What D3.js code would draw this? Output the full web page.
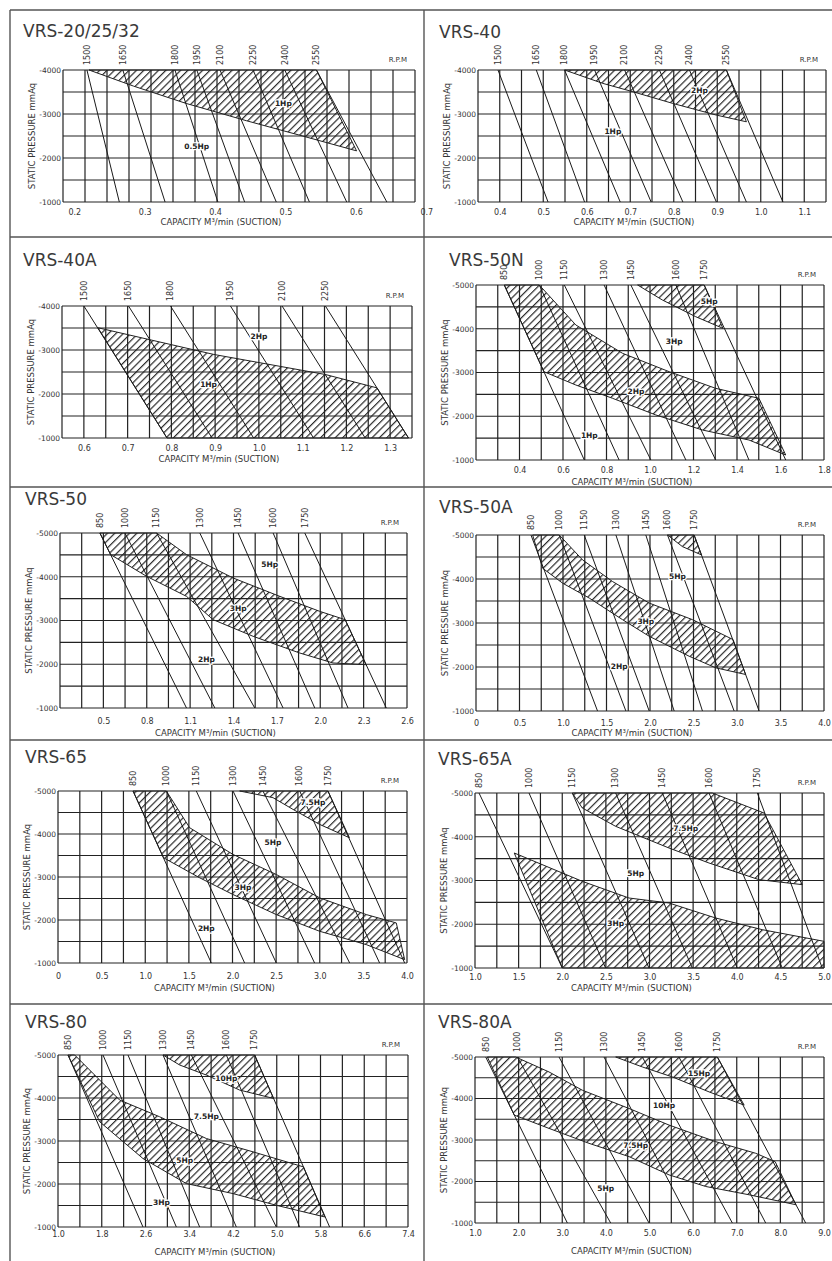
<!DOCTYPE html>
<html><head><meta charset="utf-8">
<script src="https://cdn.jsdelivr.net/npm/d3@7/dist/d3.min.js"></script>
<style>body{margin:0;background:#fff}svg{display:block}</style>
</head><body>
<script>
// ---------------- DATA (capacity m3/min, static pressure mmAq) ----------------
// VRS-20/25/32
const v20Titles = "VRS-20/25/32";
const v20XDom = [0.184, 0.684];
const v20XTicks = [0.2, 0.3, 0.4, 0.5, 0.6, 0.7];
const v20Rpm = [1500, 1650, 1800, 1950, 2100, 2250, 2400, 2550];
const v20Top = [0.218, 0.269, 0.343, 0.374, 0.407, 0.454, 0.499, 0.544];
const v20Bot = [0.264, 0.329, 0.404, 0.442, 0.487, 0.534, 0.587, 0.644];
const v20Hatch = [[[0.221,-4000],[0.544,-4000],[0.601,-2162],[0.520,-2519],[0.445,-2845],[0.359,-3240],[0.284,-3635]]];
const v20Hp = [["1Hp",0.497,-3240],["0.5Hp",0.374,-2268]];

// VRS-40
const v40XDom = [0.35, 1.15];
const v40XTicks = [0.4, 0.5, 0.6, 0.7, 0.8, 0.9, 1.0, 1.1];
const v40Rpm = [1500, 1650, 1800, 1950, 2100, 2250, 2400, 2550];
const v40Top = [0.396, 0.484, 0.549, 0.618, 0.687, 0.767, 0.836, 0.921];
const v40Bot = [0.511, 0.595, 0.677, 0.748, 0.821, 0.898, 0.967, 1.051];
const v40Hatch = [[[0.549,-4000],[0.921,-4000],[0.967,-2823],[0.898,-2975],[0.798,-3240],[0.706,-3506],[0.637,-3696]]];
const v40Hp = [["2Hp",0.859,-3544],["1Hp",0.660,-2595]];

// VRS-40A
const v40aXDom = [0.55, 1.35];
const v40aXTicks = [0.6, 0.7, 0.8, 0.9, 1.0, 1.1, 1.2, 1.3];
const v40aRpm = [1500, 1650, 1800, 1950, 2100, 2250];
const v40aTop = [0.600, 0.702, 0.798, 0.935, 1.053, 1.152];
const v40aBot = [0.790, 0.893, 0.988, 1.125, 1.243, 1.342];
const v40aHatch = [[[0.632,-3506],[0.897,-2899],[1.152,-2443],[1.270,-2139],[1.342,-1000],[0.790,-1000]]];
const v40aHp = [["2Hp",1.0,-3316],["1Hp",0.885,-2215]];

// VRS-50N
const v50nXDom = [0.2, 1.8];
const v50nXTicks = [0.4, 0.6, 0.8, 1.0, 1.2, 1.4, 1.6, 1.8];
const v50nRpm = [850, 1000, 1150, 1300, 1450, 1600, 1750];
const v50nTop = [0.330, 0.491, 0.606, 0.789, 0.912, 1.119, 1.249];
const v50nBot = [0.698, 0.858, 1.004, 1.165, 1.302, 1.455, 1.624];
const v50nHatch = [
  [[0.330,-5000],[0.491,-5000],[0.659,-4086],[0.874,-3438],[1.088,-3019],[1.302,-2638],[1.501,-2410],[1.624,-1114],[1.455,-1457],[1.241,-1686],[1.027,-2029],[0.828,-2410],[0.659,-2714],[0.512,-3019]],
  [[0.943,-5000],[1.249,-5000],[1.335,-4010],[1.210,-4276],[1.057,-4657]]
];
const v50nHp = [["5Hp",1.272,-4619],["3Hp",1.111,-3705],["2Hp",0.935,-2562],["1Hp",0.721,-1571]];

// VRS-50
const v50XDom = [0.2, 2.6];
const v50XTicks = [0.5, 0.8, 1.1, 1.4, 1.7, 2.0, 2.3, 2.6];
const v50Rpm = [850, 1000, 1150, 1300, 1450, 1600, 1750];
const v50Top = [0.476, 0.649, 0.868, 1.167, 1.432, 1.674, 1.893];
const v50Bot = [1.075, 1.271, 1.547, 1.743, 1.962, 2.192, 2.457];
const v50Hatch = [[[0.476,-5000],[0.868,-5000],[1.075,-4505],[1.398,-3971],[1.720,-3552],[1.996,-3210],[2.172,-3019],[2.317,-1990],[2.088,-2029],[1.858,-2257],[1.536,-2638],[1.259,-3019],[1.075,-3552],[0.799,-4010],[0.550,-4505]]];
const v50Hp = [["5Hp",1.651,-4276],["3Hp",1.432,-3286],["2Hp",1.213,-2105]];

// VRS-50A
const v50aXDom = [0, 4];
const v50aXTicks = [0, 0.5, 1.0, 1.5, 2.0, 2.5, 3.0, 3.5, 4.0];
const v50aRpm = [850, 1000, 1150, 1300, 1450, 1600, 1750];
const v50aTop = [0.632, 0.957, 1.244, 1.608, 1.952, 2.201, 2.507];
const v50aBot = [1.397, 1.723, 1.991, 2.278, 2.603, 2.967, 3.254];
const v50aHatch = [
  [[0.651,-5000],[0.957,-5000],[1.225,-4434],[1.569,-3943],[1.991,-3453],[2.488,-3076],[2.955,-2623],[3.099,-1830],[2.756,-1981],[2.450,-2245],[1.991,-2698],[1.684,-3076],[1.302,-3566],[0.995,-3906],[0.766,-4245]],
  [[2.201,-5000],[2.507,-5000],[2.592,-4547],[2.373,-4736]]
];
const v50aHp = [["5Hp",2.316,-4057],["3Hp",1.952,-3038],["2Hp",1.646,-2019]];

// VRS-65
const v65XDom = [0, 4];
const v65XTicks = [0, 0.5, 1.0, 1.5, 2.0, 2.5, 3.0, 3.5, 4.0];
const v65Rpm = [850, 1000, 1150, 1300, 1450, 1600, 1750];
const v65Top = [0.860, 1.242, 1.585, 2.006, 2.349, 2.770, 3.094];
const v65Bot = [1.757, 2.139, 2.502, 2.941, 3.343, 3.686, 3.973];
const v65Hatch = [
  [[0.860,-5000],[1.242,-5000],[1.509,-4146],[2.006,-3524],[2.502,-3058],[2.999,-2515],[3.534,-2126],[3.877,-1932],[3.973,-1078],[3.534,-1427],[2.999,-1738],[2.502,-2126],[2.006,-2592],[1.624,-2981],[1.210,-3447]],
  [[2.082,-5000],[3.094,-5000],[3.340,-3913],[2.999,-4223],[2.693,-4573],[2.464,-4845]]
];
const v65Hp = [["7.5Hp",2.922,-4728],["5Hp",2.464,-3796],["3Hp",2.120,-2748],["2Hp",1.700,-1816]];

// VRS-65A
const v65aXDom = [1, 5];
const v65aXTicks = [1.0, 1.5, 2.0, 2.5, 3.0, 3.5, 4.0, 4.5, 5.0];
const v65aRpm = [850, 1000, 1150, 1300, 1450, 1600, 1750];
const v65aTop = [1.046, 1.619, 2.115, 2.612, 3.147, 3.682, 4.236];
const v65aBot = [2.001, 2.497, 2.994, 3.491, 4.006, 4.522, 4.980];
const v65aHatch = [
  [[2.115,-5000],[3.720,-5000],[4.312,-4543],[4.751,-2905],[4.255,-3019],[3.682,-3400],[3.223,-3743],[2.612,-4238],[2.230,-4657]],
  [[1.450,-3629],[2.230,-2981],[2.765,-2600],[3.223,-2486],[3.758,-2143],[4.293,-1876],[5.0,-1610],[5.0,-1000],[2.001,-1000]]
];
const v65aHp = [["7.5Hp",3.414,-4200],["5Hp",2.841,-3171],["3Hp",2.612,-2029]];

// VRS-80
const v80XDom = [1, 7.4];
const v80XTicks = [1.0, 1.8, 2.6, 3.4, 4.2, 5.0, 5.8, 6.6, 7.4];
const v80Rpm = [850, 1000, 1150, 1300, 1450, 1600, 1750];
const v80Top = [1.183, 1.823, 2.280, 2.920, 3.438, 4.078, 4.596];
const v80Bot = [2.554, 3.164, 3.590, 4.261, 4.992, 5.419, 5.967];
const v80Hatch = [
  [[1.183,-5000],[1.305,-5000],[2.128,-3951],[2.859,-3563],[3.712,-3058],[4.566,-2748],[5.488,-2398],[5.880,-1233],[4.992,-1505],[4.200,-1777],[3.347,-2010],[2.554,-2592],[1.762,-3447]],
  [[2.920,-5000],[4.596,-5000],[4.942,-3990],[4.322,-4184],[3.712,-4534],[3.225,-4767]]
];
const v80Hp = [["10Hp",4.078,-4456],["7.5Hp",3.712,-3563],["5Hp",3.316,-2553],["3Hp",2.890,-1582]];

// VRS-80A
const v80aXDom = [1, 9];
const v80aXTicks = [1.0, 2.0, 3.0, 4.0, 5.0, 6.0, 7.0, 8.0, 9.0];
const v80aRpm = [850, 1000, 1150, 1300, 1450, 1600, 1750];
const v80aTop = [1.245, 1.970, 2.926, 3.957, 4.836, 5.676, 6.555];
const v80aBot = [3.117, 4.110, 4.989, 5.944, 6.899, 7.663, 8.580];
const v80aHatch = [
  [[1.283,-5000],[1.932,-5000],[2.696,-4640],[3.460,-4200],[4.530,-3760],[5.447,-3360],[6.517,-2960],[7.434,-2680],[7.880,-2480],[8.357,-1440],[7.281,-1680],[6.288,-1880],[5.447,-2160],[4.530,-2600],[3.613,-2920],[2.696,-3280],[1.900,-3600]],
  [[4.225,-5000],[6.555,-5000],[7.170,-3840],[6.364,-4160],[5.524,-4520],[4.836,-4760]]
];
const v80aHp = [["15Hp",6.135,-4600],["10Hp",5.333,-3840],["7.5Hp",4.683,-2880],["5Hp",3.995,-1840]];

const y3Ticks = [-4000, -3000, -2000, -1000];
const y4Ticks = [-5000, -4000, -3000, -2000, -1000];

// ---------------- LAYOUT (pixels) ----------------
const layout = [
  {L:63, T:70,  R:415, B:202, tx:23,  ty:37,   tdy:13, xdy:23},
  {L:478,T:70,  R:826, B:202, tx:439, ty:38,   tdy:13, xdy:23},
  {L:62, T:306, R:412, B:438, tx:23,  ty:266,  tdy:13, xdy:24},
  {L:476,T:285, R:824, B:460, tx:449, ty:266,  tdy:13, xdy:25},
  {L:60, T:533, R:407, B:708, tx:25,  ty:505,  tdy:16, xdy:28},
  {L:476,T:535, R:824, B:711, tx:439, ty:513,  tdy:15, xdy:25},
  {L:58, T:791, R:407, B:963, tx:25,  ty:763,  tdy:16, xdy:28},
  {L:475,T:793, R:824, B:968, tx:438, ty:765,  tdy:12, xdy:23},
  {L:58, T:1055,R:408, B:1227,tx:25,  ty:1028, tdy:10, xdy:28},
  {L:475,T:1057,R:824, B:1223,tx:438, ty:1028, tdy:13, xdy:31}
];

const panels = [
  {title:v20Titles, xDom:v20XDom, xt:v20XTicks, yTop:-4000, yt:y3Ticks, rpm:v20Rpm, top:v20Top, bot:v20Bot, hatch:v20Hatch, hp:v20Hp},
  {title:"VRS-40", xDom:v40XDom, xt:v40XTicks, yTop:-4000, yt:y3Ticks, rpm:v40Rpm, top:v40Top, bot:v40Bot, hatch:v40Hatch, hp:v40Hp},
  {title:"VRS-40A", xDom:v40aXDom, xt:v40aXTicks, yTop:-4000, yt:y3Ticks, rpm:v40aRpm, top:v40aTop, bot:v40aBot, hatch:v40aHatch, hp:v40aHp},
  {title:"VRS-50N", xDom:v50nXDom, xt:v50nXTicks, yTop:-5000, yt:y4Ticks, rpm:v50nRpm, top:v50nTop, bot:v50nBot, hatch:v50nHatch, hp:v50nHp},
  {title:"VRS-50", xDom:v50XDom, xt:v50XTicks, yTop:-5000, yt:y4Ticks, rpm:v50Rpm, top:v50Top, bot:v50Bot, hatch:v50Hatch, hp:v50Hp},
  {title:"VRS-50A", xDom:v50aXDom, xt:v50aXTicks, yTop:-5000, yt:y4Ticks, rpm:v50aRpm, top:v50aTop, bot:v50aBot, hatch:v50aHatch, hp:v50aHp},
  {title:"VRS-65", xDom:v65XDom, xt:v65XTicks, yTop:-5000, yt:y4Ticks, rpm:v65Rpm, top:v65Top, bot:v65Bot, hatch:v65Hatch, hp:v65Hp},
  {title:"VRS-65A", xDom:v65aXDom, xt:v65aXTicks, yTop:-5000, yt:y4Ticks, rpm:v65aRpm, top:v65aTop, bot:v65aBot, hatch:v65aHatch, hp:v65aHp},
  {title:"VRS-80", xDom:v80XDom, xt:v80XTicks, yTop:-5000, yt:y4Ticks, rpm:v80Rpm, top:v80Top, bot:v80Bot, hatch:v80Hatch, hp:v80Hp},
  {title:"VRS-80A", xDom:v80aXDom, xt:v80aXTicks, yTop:-5000, yt:y4Ticks, rpm:v80aRpm, top:v80aTop, bot:v80aBot, hatch:v80aHatch, hp:v80aHp}
];

// ---------------- DRAW ----------------
const W = 832, H = 1261;
const FONT = "'DejaVu Sans', 'Liberation Sans', sans-serif";
const svg = d3.select("body").append("svg").attr("width", W).attr("height", H)
  .style("font-family", FONT);

svg.append("rect").attr("width", W).attr("height", H).attr("fill", "#fff");

const defs = svg.append("defs");
const pat = defs.append("pattern").attr("id", "hatch").attr("patternUnits", "userSpaceOnUse")
  .attr("width", 5.2).attr("height", 5.2).attr("patternTransform", "rotate(45)");
pat.append("line").attr("x1", 0.6).attr("y1", 0).attr("x2", 0.6).attr("y2", 5.2)
  .attr("stroke", "#2a2a2a").attr("stroke-width", 1.2);

// frame
const frame = svg.append("g").attr("stroke", "#555").attr("stroke-width", 1.4).attr("fill", "none");
frame.append("line").attr("x1", 10).attr("x2", W).attr("y1", 10).attr("y2", 10);
frame.append("line").attr("x1", 10).attr("x2", 10).attr("y1", 10).attr("y2", H);
frame.append("line").attr("x1", 424).attr("x2", 424).attr("y1", 10).attr("y2", H);
[237, 487, 740, 1004].forEach(yy =>
  frame.append("line").attr("x1", 10).attr("x2", W).attr("y1", yy).attr("y2", yy));

const fmt = d => d === 0 ? "0" : d.toFixed(1);

panels.forEach((p, i) => {
  const lo = layout[i];
  const x = d3.scaleLinear().domain(p.xDom).range([lo.L, lo.R]);
  const y = d3.scaleLinear().domain([-1000, p.yTop]).range([lo.B, lo.T]);
  const g = svg.append("g");

  // title
  g.append("text").attr("x", lo.tx).attr("y", lo.ty).text(p.title)
    .attr("font-size", 17).attr("fill", "#3a3a3a");

  // hatch areas
  const ln = d3.line().x(d => x(d[0])).y(d => y(d[1]));
  g.selectAll(".hatch").data(p.hatch).join("path").attr("class", "hatch")
    .attr("d", d => ln(d) + "Z").attr("fill", "url(#hatch)")
    .attr("stroke", "#222").attr("stroke-width", 1);

  // grid
  const n = 16;
  const vx = d3.range(n + 1).map(k => p.xDom[0] + k * (p.xDom[1] - p.xDom[0]) / n);
  const hy = d3.range(p.yTop, -999, 500);
  const grid = g.append("g").attr("stroke", "#222").attr("stroke-width", 1.2);
  grid.selectAll("line.v").data(vx).join("line").attr("class", "v")
    .attr("x1", d => x(d)).attr("x2", d => x(d)).attr("y1", lo.T).attr("y2", lo.B);
  grid.selectAll("line.h").data(hy).join("line").attr("class", "h")
    .attr("x1", lo.L).attr("x2", lo.R).attr("y1", d => y(d)).attr("y2", d => y(d));

  // rpm lines
  const rl = p.rpm.map((r, k) => ({r, t: p.top[k], b: p.bot[k]}));
  g.append("g").selectAll("line").data(rl).join("line")
    .attr("x1", d => x(d.t)).attr("y1", y(p.yTop))
    .attr("x2", d => x(d.b)).attr("y2", y(-1000))
    .attr("stroke", "#1a1a1a").attr("stroke-width", 1);

  // rpm labels
  g.append("g").selectAll("text").data(rl).join("text")
    .attr("transform", d => `translate(${x(d.t)},${lo.T - 5}) rotate(-90)`)
    .attr("dy", "0.35em").attr("font-size", 8).attr("fill", "#333")
    .text(d => d.r);
  g.append("text").attr("x", lo.R - 8).attr("y", lo.T - 8).attr("text-anchor", "end")
    .attr("font-size", 7).attr("fill", "#333").text("R.P.M");

  // hp labels
  g.append("g").selectAll("text").data(p.hp).join("text")
    .attr("x", d => x(d[1])).attr("y", d => y(d[2])).attr("dy", "0.35em")
    .attr("text-anchor", "middle").attr("font-size", 7.5).attr("font-weight", "bold")
    .attr("fill", "#222").attr("stroke", "#fff").attr("stroke-width", 2.5)
    .attr("paint-order", "stroke").text(d => d[0]);

  // axes
  const xa = d3.axisBottom(x).tickValues(p.xt).tickSize(0).tickPadding(0).tickFormat(fmt);
  g.append("g").attr("transform", `translate(0,${lo.B + lo.tdy})`).call(xa)
    .call(a => a.select(".domain").remove())
    .call(a => a.selectAll("text").attr("dy", null).attr("y", 0)
      .attr("font-size", 8).attr("fill", "#333").attr("font-family", FONT));
  const ya = d3.axisLeft(y).tickValues(p.yt).tickSize(0).tickPadding(2).tickFormat(d => String(d));
  g.append("g").attr("transform", `translate(${lo.L},0)`).call(ya)
    .call(a => a.select(".domain").remove())
    .call(a => a.selectAll("text").attr("font-size", 7.5).attr("fill", "#333").attr("font-family", FONT));

  // axis titles
  g.append("text").attr("transform", `translate(${lo.L - 31},${(lo.T + lo.B) / 2}) rotate(-90)`)
    .attr("text-anchor", "middle").attr("dy", "0.35em").attr("font-size", 8.5).attr("fill", "#333")
    .text("STATIC PRESSURE mmAq");
  g.append("text").attr("x", (lo.L + lo.R) / 2 - 18).attr("y", lo.B + lo.xdy)
    .attr("text-anchor", "middle").attr("font-size", 8.5).attr("fill", "#333")
    .text("CAPACITY M³/min (SUCTION)");
});
</script>
</body></html>
